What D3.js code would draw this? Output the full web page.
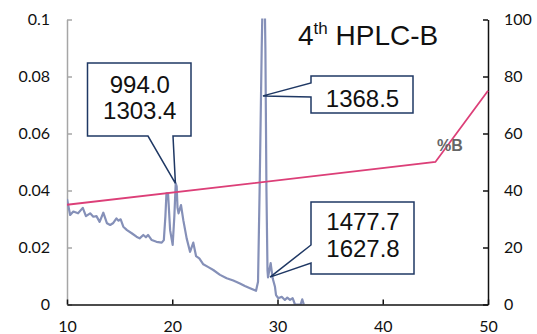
<!DOCTYPE html>
<html><head><meta charset="utf-8">
<script src="https://cdn.jsdelivr.net/npm/d3@7"></script>
<style>
body{margin:0;background:#fff;}
svg{display:block;}
</style></head>
<body>
<svg id="c" width="537" height="334"></svg>
<script>
// retention time (min) and absorbance of the chromatogram trace
const rt = [10.0,10.3,10.6,11.05,11.5,11.8,12.2,12.5,12.8,13.1,13.45,13.8,14.1,14.4,14.7,14.9,15.1,15.35,15.7,16.15,16.6,16.9,17.25,17.5,17.7,18.05,18.5,19.0,19.2,19.35,19.45,19.6,19.8,20.04,20.2,20.33,20.42,20.5,20.6,20.83,21.05,21.37,21.69,22.0,22.26,22.57,22.95,23.43,23.9,24.54,25.17,25.8,26.43,26.9,27.39,27.96,28.15,28.3,28.5,28.7,28.85,28.95,29.05,29.1,29.35,29.54,29.76,29.86,30.08,30.4,30.7,30.93,31.19,31.44,31.66,32.2,32.35,32.5];
const absorb = [0.037,0.0314,0.0326,0.032,0.0339,0.031,0.032,0.0308,0.031,0.029,0.0322,0.0285,0.0279,0.0286,0.0302,0.0294,0.0299,0.0273,0.0261,0.025,0.0238,0.0232,0.0244,0.0236,0.0244,0.0226,0.022,0.0217,0.0226,0.031,0.039,0.039,0.026,0.0209,0.031,0.0425,0.0415,0.034,0.032,0.0349,0.0296,0.0232,0.0185,0.0217,0.017,0.0162,0.0141,0.0131,0.0121,0.0104,0.0092,0.0084,0.0074,0.0065,0.0057,0.0048,0.008,0.04,0.09,0.13,0.09,0.04,0.012,0.0095,0.0145,0.0092,0.0062,0.0033,0.0022,0.0027,0.0016,0.0024,0.0016,0.0022,0.0,0.0,0.0018,0.0];
// %B gradient
const gradT = [10, 45, 50];
const gradB = [35, 50, 75];
// axis ticks
const xTicks = [10, 20, 30, 40, 50];
const yTicks = [0, 0.02, 0.04, 0.06, 0.08, 0.1];
const yTickLabels = ["0", "0.02", "0.04", "0.06", "0.08", "0.1"];
const y2Ticks = [0, 20, 40, 60, 80, 100];
// annotations: labels and the point each callout points to
const notes = [
  {lines: ["994.0", "1303.4"], t: 20.3, a: 0.0425},
  {lines: ["1368.5"], t: 28.62, a: 0.0732},
  {lines: ["1477.7", "1627.8"], t: 29.29, a: 0.0096}
];

const svg = d3.select("#c");
const L = 67, R = 488, T = 19.5, B = 304.5;
const x = d3.scaleLinear().domain([10, 50]).range([L, R]);
const y = d3.scaleLinear().domain([0, 0.1]).range([B, T]);
const y2 = d3.scaleLinear().domain([0, 100]).range([B, T]);

svg.append("defs").append("clipPath").attr("id", "clip")
  .append("rect").attr("x", L).attr("y", T - 1).attr("width", R - L).attr("height", B - T + 1);

const tickFont = "Lato, 'DejaVu Sans', sans-serif";

// left axis (grey)
const ga = svg.append("g").attr("transform", `translate(${L},0)`)
  .call(d3.axisLeft(y).tickValues(yTicks).tickSize(-5).tickSizeOuter(0).tickPadding(17)
    .tickFormat((d, i) => yTickLabels[i]));
ga.selectAll("path,line").attr("stroke", "#a6a6a6").attr("stroke-width", 1.5);
ga.selectAll("text").attr("font-size", 16).attr("font-family", tickFont).attr("fill", "#111");

// right axis
const gr = svg.append("g").attr("transform", `translate(${R},0)`)
  .call(d3.axisRight(y2).tickValues(y2Ticks).tickSize(-5).tickSizeOuter(0).tickPadding(16));
gr.selectAll("path,line").attr("stroke", "#111").attr("stroke-width", 1.5);
gr.selectAll("text").attr("font-size", 16).attr("font-family", tickFont).attr("fill", "#111");

// trace
const line = d3.line().x((d, i) => x(rt[i])).y(d => y(d));
svg.append("path").datum(absorb).attr("d", line).attr("clip-path", "url(#clip)")
  .attr("fill", "none").attr("stroke", "#8590b8").attr("stroke-width", 2.2)
  .attr("stroke-linejoin", "round");

// bottom axis
const gb = svg.append("g").attr("transform", `translate(0,${B})`)
  .call(d3.axisBottom(x).tickValues(xTicks).tickSize(-5).tickSizeOuter(0).tickPadding(16));
gb.selectAll("path,line").attr("stroke", "#111").attr("stroke-width", 1.5);
gb.selectAll("text").attr("font-size", 16).attr("font-family", tickFont).attr("fill", "#111");

// gradient line
const gl = d3.line().x((d, i) => x(gradT[i])).y(d => y2(d));
svg.append("path").datum(gradB).attr("d", gl)
  .attr("fill", "none").attr("stroke", "#dc3f78").attr("stroke-width", 1.8);

svg.append("text").attr("x", 437).attr("y", 151).text("%B")
  .attr("font-family", "'Liberation Sans', Arial, sans-serif").attr("font-weight", "bold")
  .attr("font-size", 16).attr("fill", "#666");

// title
const title = svg.append("text").attr("x", 298).attr("y", 45)
  .attr("font-family", "'Liberation Sans', Arial, sans-serif").attr("font-size", 28).attr("fill", "#111");
title.append("tspan").text("4");
title.append("tspan").text("th").attr("font-size", 17).attr("dy", -11);
title.append("tspan").text(" HPLC-B").attr("dy", 11);

// callouts
const boxes = [
  {x0: 87.5, y0: 63, x1: 191, y1: 136, side: "bottom", p0: 148, p1: 173, ty: [93, 119]},
  {x0: 311, y0: 76, x1: 413, y1: 113, side: "left", p0: 83, p1: 97, ty: [107]},
  {x0: 311, y0: 202, x1: 414, y1: 274, side: "left", p0: 245, p1: 263, ty: [230, 257]}
];
boxes.forEach((b, i) => {
  const n = notes[i];
  const tx = x(n.t), ty = y(n.a);
  let d;
  if (b.side === "bottom") {
    d = `M${b.x0},${b.y0}H${b.x1}V${b.y1}H${b.p1}L${tx},${ty}L${b.p0},${b.y1}H${b.x0}Z`;
  } else {
    d = `M${b.x0},${b.y0}H${b.x1}V${b.y1}H${b.x0}V${b.p1}L${tx},${ty}L${b.x0},${b.p0}Z`;
  }
  svg.append("path").attr("d", d).attr("fill", "#fff").attr("stroke", "#1f3864")
    .attr("stroke-width", 1.5).attr("stroke-linejoin", "miter");
  n.lines.forEach((s, j) => {
    svg.append("text").attr("x", (b.x0 + b.x1) / 2 + 0.5).attr("y", b.ty[j])
      .attr("text-anchor", "middle").text(s)
      .attr("font-family", "'Liberation Sans', Arial, sans-serif").attr("font-size", 24).attr("fill", "#111");
  });
});
</script>
</body></html>
